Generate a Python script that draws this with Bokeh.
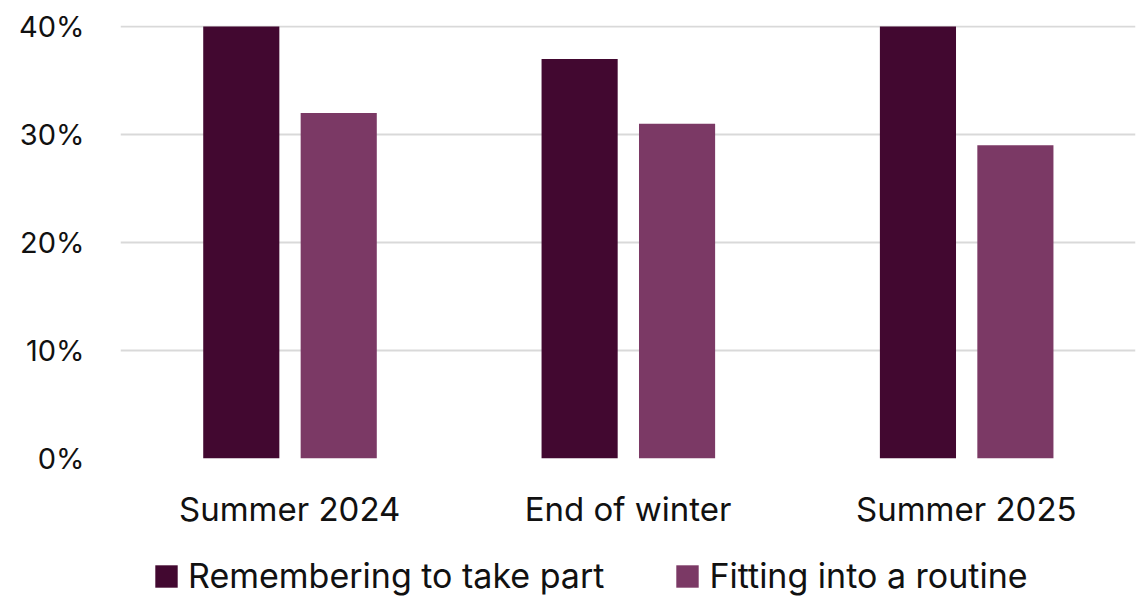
from bokeh.plotting import figure
from bokeh.layouts import column
from bokeh.models import ColumnDataSource, FactorRange, Range1d, FixedTicker, PrintfTickFormatter, Legend, LegendItem
from bokeh.transform import dodge
from bokeh.embed import file_html
from bokeh.resources import INLINE

categories = ["Summer 2024", "End of winter", "Summer 2025"]
remembering = [40, 37, 40]
routine = [32, 31, 29]
series_names = ["Remembering to take part", "Fitting into a routine"]
y_ticks = [0, 10, 20, 30, 40]

FONT = "Inter"
DARK = "#420830"
LIGHT = "#7B3965"
TEXT = "#111111"

src = ColumnDataSource(dict(cat=categories, a=remembering, b=routine))

p = figure(x_range=FactorRange(*categories, range_padding=0), y_range=Range1d(0, 40.1),
           width=1140, height=535, output_backend="svg", toolbar_location=None,
           min_border_left=120, min_border_right=5, min_border_top=25, min_border_bottom=77)
p.outline_line_color = None

p.vbar(x=dodge("cat", -0.143, range=p.x_range), top="a", width=0.225, source=src,
       fill_color=DARK, line_color=None)
p.vbar(x=dodge("cat", 0.145, range=p.x_range), top="b", width=0.225, source=src,
       fill_color=LIGHT, line_color=None)

p.xgrid.grid_line_color = None
p.ygrid.grid_line_color = "#D9D9D9"
p.ygrid.grid_line_width = 2
p.ygrid.ticker = FixedTicker(ticks=y_ticks)

p.yaxis.ticker = FixedTicker(ticks=y_ticks)
p.yaxis.formatter = PrintfTickFormatter(format="%d%%")
for ax in (p.xaxis, p.yaxis):
    ax.axis_line_color = None
    ax.major_tick_line_color = None
    ax.minor_tick_line_color = None
    ax.major_label_text_font = FONT
    ax.major_label_text_color = TEXT
p.yaxis.major_label_text_font_size = "29px"
p.xaxis.major_label_text_font_size = "33px"
p.yaxis.major_label_standoff = 30
p.xaxis.major_label_standoff = 24

# legend strip (frame is aligned with the main plot's frame by the column layout)
p2 = figure(width=1140, height=61, output_backend="svg", toolbar_location=None,
            x_range=Range1d(0, 1), y_range=Range1d(0, 1),
            min_border_left=120, min_border_right=5, min_border_top=0, min_border_bottom=0)
p2.outline_line_color = None
p2.axis.visible = False
p2.grid.visible = False
offscreen = ColumnDataSource(dict(x=[5], top=[0]))
l1 = p2.vbar(x="x", top="top", width=0.1, source=offscreen, fill_color=DARK, line_color=None)
l2 = p2.vbar(x="x", top="top", width=0.1, source=offscreen, fill_color=LIGHT, line_color=None)

legend = Legend(items=[LegendItem(label=series_names[0], renderers=[l1]),
                       LegendItem(label=series_names[1], renderers=[l2])],
                orientation="horizontal", location=(32, 0),
                label_text_font=FONT, label_text_font_size="34px", label_text_color=TEXT,
                glyph_width=28, glyph_height=28, label_standoff=8, spacing=69,
                border_line_color=None, background_fill_alpha=0, padding=0, margin=0)
p2.add_layout(legend, "center")

layout = column(p, p2, spacing=0)
open("out.html", "w").write(file_html(layout, INLINE))
